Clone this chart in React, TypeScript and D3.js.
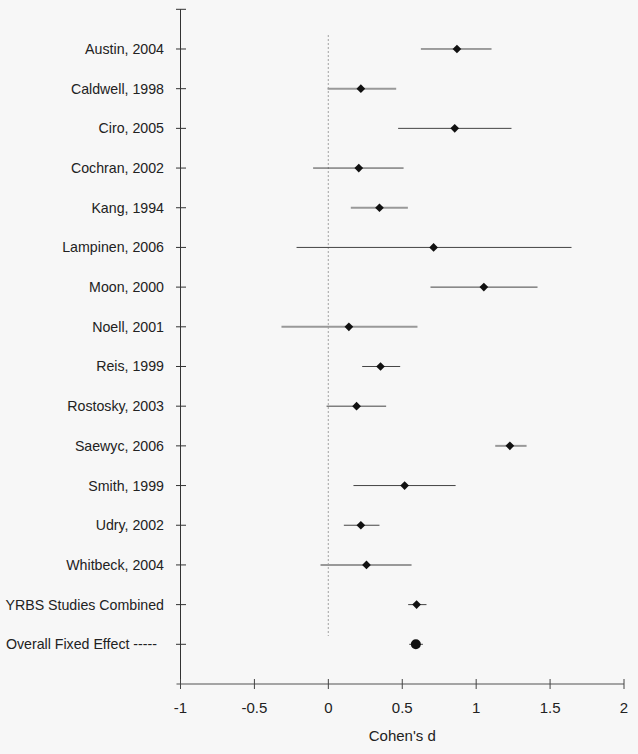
import React from "react";
import * as d3 from "d3";

const studies = [
  "Austin, 2004", "Caldwell, 1998", "Ciro, 2005", "Cochran, 2002", "Kang, 1994",
  "Lampinen, 2006", "Moon, 2000", "Noell, 2001", "Reis, 1999", "Rostosky, 2003",
  "Saewyc, 2006", "Smith, 1999", "Udry, 2002", "Whitbeck, 2004",
  "YRBS Studies Combined", "Overall Fixed Effect -----",
];
const effect = [0.87, 0.22, 0.855, 0.206, 0.346, 0.712, 1.052, 0.139, 0.353, 0.191, 1.228, 0.516, 0.22, 0.258, 0.597, 0.592];
const lower = [0.626, -0.005, 0.472, -0.103, 0.152, -0.215, 0.691, -0.317, 0.229, -0.012, 1.129, 0.17, 0.105, -0.053, 0.54, 0.547];
const upper = [1.104, 0.459, 1.239, 0.509, 0.538, 1.645, 1.415, 0.603, 0.486, 0.391, 1.341, 0.861, 0.346, 0.563, 0.664, 0.64];
const yrbsGroup = [false, true, false, false, true, false, false, true, false, false, true, false, false, true, false, false];
const xTicks = [-1, -0.5, 0, 0.5, 1, 1.5, 2];

const W = 638, H = 754;

export default function App() {
  const x = d3.scaleLinear().domain([-1, 2]).range([180.5, 624]);
  const y = d3.scaleLinear().domain([-1, 16]).range([9.3, 684]);
  const font = "Arial, 'Liberation Sans', sans-serif";
  const n = studies.length;
  const diamond = d3.symbol().type(d3.symbolSquare).size(38)();
  return (
    <svg width={W} height={H} style={{ position: "absolute", left: 0, top: 0, background: "#f7f7f7" }} fontFamily={font}>
      <rect x={0} y={0} width={W} height={H} fill="#f7f7f7" />
      <line x1={x(0)} x2={x(0)} y1={35} y2={636} stroke="#b0b0b0" strokeWidth={1.2} strokeDasharray="2,2" />
      <line x1={180.5} x2={180.5} y1={y(-1)} y2={y(16)} stroke="#333" strokeWidth={1} />
      {d3.range(-1, 16).map((i) => (
        <line key={"yt" + i} x1={176} x2={186} y1={y(i)} y2={y(i)} stroke="#333" strokeWidth={1} />
      ))}
      <line x1={x(-1) - 4} x2={x(2)} y1={y(16)} y2={y(16)} stroke="#888" strokeWidth={1.5} />
      {xTicks.map((t) => (
        <g key={"xt" + t}>
          <line x1={x(t)} x2={x(t)} y1={y(16) - 5} y2={y(16) + 5} stroke="#444" strokeWidth={1} />
          <text x={x(t)} y={713} textAnchor="middle" fontSize={15} fill="#222">{String(t)}</text>
        </g>
      ))}
      <text x={(x(-1) + x(2)) / 2} y={741} textAnchor="middle" fontSize={15} fill="#222">Cohen's d</text>
      {studies.map((s, i) => (
        <text key={"lb" + i} x={164} dx={i === n - 1 ? -7 : 0} y={y(i) + 5} textAnchor="end" fontSize={14.2} fill="#222">{s}</text>
      ))}
      {studies.map((s, i) => (
        <g key={"pt" + i}>
          <line x1={x(lower[i])} x2={x(upper[i])} y1={y(i)} y2={y(i)}
            stroke={yrbsGroup[i] ? "#999" : "#444"} strokeWidth={yrbsGroup[i] ? 2 : 1} />
          {i === n - 1 ? (
            <circle cx={x(effect[i])} cy={y(i)} r={5} fill="#111" />
          ) : (
            <path d={diamond} transform={`translate(${x(effect[i])},${y(i)}) rotate(45)`} fill="#111" />
          )}
        </g>
      ))}
    </svg>
  );
}
